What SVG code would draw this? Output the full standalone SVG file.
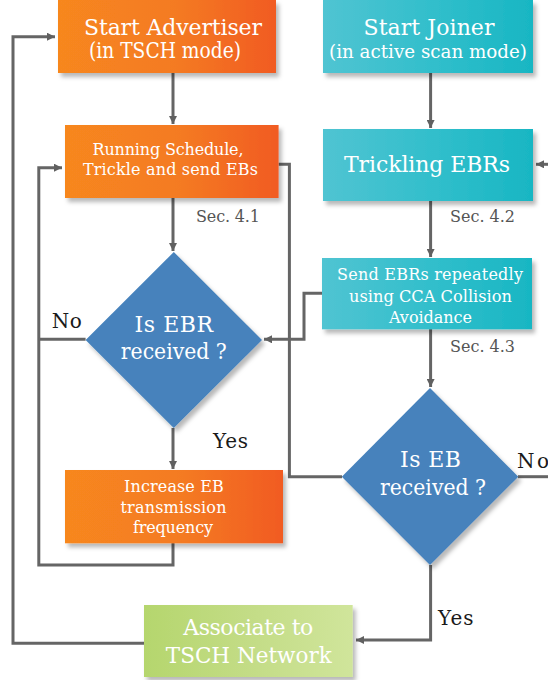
<svg xmlns="http://www.w3.org/2000/svg" width="548" height="680" viewBox="0 0 548 680">
<defs>
<linearGradient id="gOr" x1="0" y1="0" x2="1" y2="0">
<stop offset="0" stop-color="#F7871F"/><stop offset="0.55" stop-color="#F47A21"/><stop offset="1" stop-color="#F15B24"/>
</linearGradient>
<linearGradient id="gTe" x1="0" y1="0" x2="1" y2="0">
<stop offset="0" stop-color="#50C4D2"/><stop offset="0.55" stop-color="#30BECB"/><stop offset="1" stop-color="#18B6C3"/>
</linearGradient>
<linearGradient id="gGr" x1="0" y1="0" x2="1" y2="0">
<stop offset="0" stop-color="#B5D66D"/><stop offset="0.5" stop-color="#C3DC86"/><stop offset="1" stop-color="#D0E59B"/>
</linearGradient>
<filter id="sh" x="-10%" y="-10%" width="125%" height="130%">
<feDropShadow dx="3" dy="4" stdDeviation="2" flood-color="#000" flood-opacity="0.28"/>
</filter>
<marker id="ah" viewBox="0 0 10 10" refX="10" refY="5" markerWidth="8" markerHeight="8" markerUnits="userSpaceOnUse" orient="auto">
<path d="M0,0 L10,5 L0,10 z" fill="#606060"/>
</marker>
</defs>
<style>
.ln{fill:none;stroke:#656565;stroke-width:3}
.t{font-family:"DejaVu Serif","Liberation Serif",serif;fill:#fff;text-anchor:middle}
.big{font-size:22px}
.sm{font-size:16px}
.sec{font-family:"DejaVu Serif","Liberation Serif",serif;font-size:16px;fill:#555}
.lab{font-family:"DejaVu Serif","Liberation Serif",serif;font-size:20px;fill:#1a1a1a}
.or{fill:url(#gOr);filter:url(#sh)}
.te{fill:url(#gTe);filter:url(#sh)}
.gr{fill:url(#gGr);filter:url(#sh)}
.dm{fill:#4682BC;filter:url(#sh)}
</style>

<g id="connectors">
<path class="ln" d="M144,643.3 H13 V36.7 H55" marker-end="url(#ah)"/>
<path class="ln" d="M173,73 V124" marker-end="url(#ah)"/>
<path class="ln" d="M430.6,73 V128" marker-end="url(#ah)"/>
<path class="ln" d="M173,198 V251" marker-end="url(#ah)"/>
<path class="ln" d="M430.6,201 V257" marker-end="url(#ah)"/>
<path class="ln" d="M430.6,329 V387" marker-end="url(#ah)"/>
<path class="ln" d="M173,428 V469" marker-end="url(#ah)"/>
<path class="ln" d="M173,543 V565 H38.8 V167.7 H62" marker-end="url(#ah)"/>
<path class="ln" d="M85.6,339.3 H38.8"/>
<path class="ln" d="M278.6,164.3 H289.4 V476.7 H342"/>
<path class="ln" d="M322,293.3 H304 V339.3 H264" marker-end="url(#ah)"/>
<path class="ln" d="M518,476.7 H550"/>
<path class="ln" d="M550,164.3 H536" marker-end="url(#ah)"/>
<path class="ln" d="M430.6,565 V640 H356" marker-end="url(#ah)"/>
</g>

<g id="start-advertiser">
<rect class="or" x="58" y="0" width="218" height="73"/>
<text class="t big" x="173" y="35" textLength="178">Start Advertiser</text>
<text class="t big" x="165" y="58.3" textLength="152" lengthAdjust="spacingAndGlyphs">(in TSCH mode)</text>
</g>

<g id="start-joiner">
<rect class="te" x="323" y="0" width="210" height="73"/>
<text class="t big" x="429" y="35" textLength="131">Start Joiner</text>
<text class="t" x="428" y="58.3" font-size="19" textLength="198" lengthAdjust="spacingAndGlyphs">(in active scan mode)</text>
</g>

<g id="running-schedule">
<rect class="or" x="65" y="125" width="213.6" height="73"/>
<text class="t sm" x="168" y="155" textLength="151">Running Schedule,</text>
<text class="t sm" x="170.4" y="175" textLength="175">Trickle and send EBs</text>
</g>

<g id="trickling-ebrs">
<rect class="te" x="323" y="129" width="210" height="72"/>
<text class="t big" x="427" y="171.7" textLength="166">Trickling EBRs</text>
</g>

<g id="sec-labels">
<text class="sec" x="196" y="222" textLength="64">Sec. 4.1</text>
<text class="sec" x="450" y="222" textLength="65">Sec. 4.2</text>
<text class="sec" x="450" y="351.7" textLength="65">Sec. 4.3</text>
</g>

<g id="is-ebr-received">
<polygon class="dm" points="173.8,252 262,340 173.8,428 85.6,340"/>
<text class="t big" x="173.8" y="331.7" textLength="78.5">Is EBR</text>
<text class="t big" x="173.8" y="359.3" textLength="106" lengthAdjust="spacingAndGlyphs">received ?</text>
<text class="lab" x="51.7" y="328.3" textLength="30">No</text>
<text class="lab" x="213" y="448.3" textLength="35">Yes</text>
</g>

<g id="send-ebrs">
<rect class="te" x="322" y="258" width="210" height="71.3"/>
<text class="t sm" x="430" y="280" textLength="186">Send EBRs repeatedly</text>
<text class="t sm" x="430.5" y="301.7" textLength="163" lengthAdjust="spacingAndGlyphs">using CCA Collision</text>
<text class="t sm" x="430.5" y="323.3" textLength="83">Avoidance</text>
</g>

<g id="is-eb-received">
<polygon class="dm" points="430,388 518.3,476.7 430,565 341.8,476.7"/>
<text class="t big" x="430.5" y="467.3" textLength="61">Is EB</text>
<text class="t big" x="433" y="495" textLength="106" lengthAdjust="spacingAndGlyphs">received ?</text>
<text class="lab" x="517" y="468.3" textLength="32">No</text>
<text class="lab" x="438" y="625" textLength="35.6">Yes</text>
</g>

<g id="increase-eb">
<rect class="or" x="65" y="470" width="218" height="73.3"/>
<text class="t sm" x="173.9" y="491.7" textLength="99.6">Increase EB</text>
<text class="t sm" x="173.5" y="512.7" textLength="106">transmission</text>
<text class="t sm" x="173" y="533.3" textLength="80">frequency</text>
</g>

<g id="associate">
<rect class="gr" x="144" y="605" width="208.7" height="72"/>
<text class="t big" x="248.3" y="635" textLength="130">Associate to</text>
<text class="t big" x="248.8" y="663.3" textLength="166" lengthAdjust="spacingAndGlyphs">TSCH Network</text>
</g>
</svg>
